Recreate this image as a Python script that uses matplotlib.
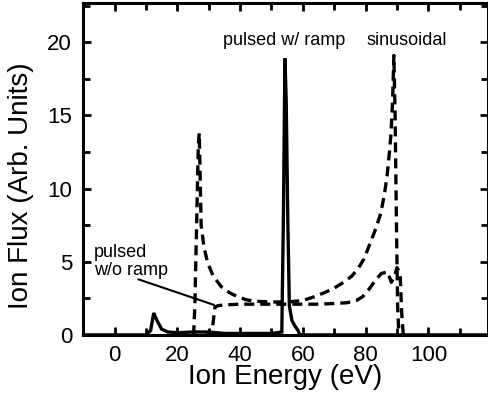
import numpy as np
import matplotlib
matplotlib.use("Agg")
import matplotlib.pyplot as plt
from matplotlib.ticker import MultipleLocator

plt.rcParams['font.family'] = ['Liberation Sans', 'DejaVu Sans']

# sinusoidal bias (dashed, upper)
sin_x = [20, 25.2, 25.6, 26.0, 26.4, 26.7, 27.0, 27.6, 28.5, 29.7, 31.5, 34, 36.5, 39.3,
         42, 45, 50, 55, 60, 63.5, 67, 70, 73, 75.5, 77.5, 79.5, 81.5, 83.3, 84.8, 86,
         86.9, 87.6, 88.1, 88.6, 89.0, 89.4, 89.8, 90.2, 90.6]
sin_y = [0, 0, 2, 6, 10, 13, 13.8, 7.5, 6.0, 4.9, 4.0, 3.3, 2.9, 2.6,
         2.4, 2.3, 2.25, 2.25, 2.35, 2.6, 2.9, 3.2, 3.6, 4.0, 4.5, 5.2, 6.3, 7.3, 8.3, 9.6,
         11, 12.5, 13.8, 16, 19.1, 15, 8, 2, 0]

# pulsed without ramp (dashed, lower)
nor_x = [29, 31.0, 31.5, 32, 33, 35, 40, 45, 50, 55, 60, 65, 70, 74, 77, 79, 81, 83,
         85, 87, 88.2, 89, 90, 91, 91.5, 92]
nor_y = [0, 0, 1, 1.9, 2.0, 2.05, 2.1, 2.1, 2.1, 2.1, 2.1, 2.1, 2.15, 2.2, 2.35, 2.6,
         3.1, 3.7, 4.2, 4.3, 3.6, 3.9, 4.6, 4.2, 1.5, 0]

# pulsed with ramp (solid)
ramp_x = [-10, 10, 11.5, 12.5, 13.5, 15, 17, 20, 25, 30, 35, 40, 45, 50, 53.3, 53.8,
          54.3, 54.7, 55.2, 55.7, 56.5, 57.5, 58.5, 59, 62, 80, 120]
ramp_y = [0, 0, 0.3, 1.5, 1.0, 0.4, 0.2, 0.15, 0.2, 0.2, 0.1, 0.1, 0.1, 0.1, 0.2, 8,
          18.9, 16, 8, 2, 1.0, 0.6, 0.3, 0, 0, 0, 0]

fig = plt.figure(figsize=(4.89, 4.04), dpi=100)
ax = fig.add_axes([0.170, 0.171, 0.828, 0.822])

lw = 2.4
ax.plot(sin_x, sin_y, color='black', lw=lw, ls=(0, (3, 1.8)))
ax.plot(nor_x, nor_y, color='black', lw=lw, ls=(0, (3, 1.8)))
ax.plot(ramp_x, ramp_y, color='black', lw=lw, solid_joinstyle='miter')

ax.set_xlim(-10, 119)
ax.set_ylim(0, 22.7)
ax.xaxis.set_major_locator(MultipleLocator(20))
ax.xaxis.set_minor_locator(MultipleLocator(10))
ax.yaxis.set_major_locator(MultipleLocator(5))
ax.yaxis.set_minor_locator(MultipleLocator(2.5))
ax.tick_params(which='both', direction='in', top=True, right=True, width=2, labelsize=16)
ax.tick_params(which='major', length=6)
ax.tick_params(which='minor', length=5)
ax.tick_params(axis='y', which='major', pad=8)
ax.tick_params(axis='x', which='major', pad=7)
for s in ax.spines.values():
    s.set_linewidth(2.2)

ax.set_xlabel("Ion Energy (eV)", fontsize=20, labelpad=-1)
ax.set_ylabel("Ion Flux (Arb. Units)", fontsize=20)
ax.yaxis.set_label_coords(-0.122, 0.45)

ax.text(54, 20.1, "pulsed w/ ramp", fontsize=13, ha='center', va='center')
ax.text(93, 20.1, "sinusoidal", fontsize=13, ha='center', va='center')
ax.text(-6.5, 5.0, "pulsed\nw/o ramp", fontsize=13, ha='left', va='center', linespacing=1.1)
ax.annotate("", xy=(31.7, 2.05), xytext=(7.6, 3.8),
            arrowprops=dict(arrowstyle='-', color='black', lw=1.5, shrinkA=0, shrinkB=0))

fig.savefig("out.png", dpi=100)
